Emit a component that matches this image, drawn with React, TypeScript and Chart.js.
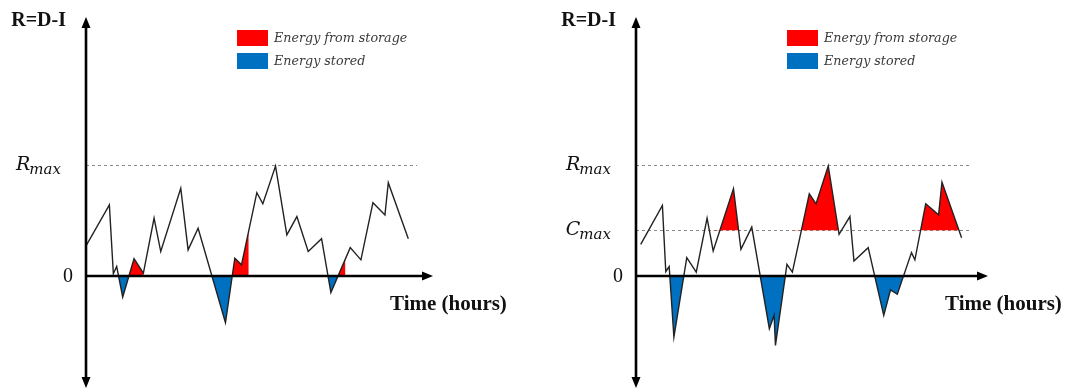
import React, { useEffect, useRef } from "react";
import { Chart, registerables } from "chart.js";

Chart.register(...registerables);

// ---------- data ----------
const X_MAX = 26; // hours shown on the time axis
const Y_MIN = -10;
const Y_MAX = 23.5;
const R_MAX = 10;
const C_MAX = 4.1;
const REF_LINE_END = 24.8;

const leftHours = [0, 1.75, 2.05, 2.3, 2.75, 3.6, 4.3, 5.1, 5.6, 7.1, 7.65, 8.4, 10.45, 11.15, 11.65, 12.8, 13.25, 14.2, 15.05, 15.8, 16.65, 17.65, 18.35, 19.8, 20.6, 21.5, 22.4, 22.65, 24.15];
const leftR = [2.7, 6.4, 0.2, 0.85, -1.9, 1.55, 0.25, 5.2, 2.2, 7.9, 2.35, 4.3, -4.2, 1.6, 1.0, 7.5, 6.5, 9.9, 3.7, 5.35, 2.2, 3.35, -1.5, 2.55, 1.45, 6.6, 5.5, 8.4, 3.35];
const leftWindowStart = [2.75, 10.45, 18.35];
const leftWindowEnd = [4.3, 12.2, 19.45];

const rightHours = [0.35, 1.95, 2.2, 2.45, 2.8, 3.75, 4.45, 5.25, 5.7, 7.2, 7.75, 8.55, 9.85, 10.2, 10.3, 11.15, 11.55, 12.8, 13.3, 14.2, 15.0, 15.8, 16.1, 17.15, 18.3, 18.8, 19.3, 20.35, 20.6, 21.4, 22.35, 22.6, 24.05];
const rightR = [2.85, 6.35, 0.4, 0.85, -5.5, 1.65, 0.35, 5.2, 2.25, 7.85, 2.4, 4.4, -4.75, -3.55, -6.25, 1.05, 0.35, 7.4, 6.5, 9.9, 3.75, 5.35, 1.35, 2.55, -3.55, -1.25, -1.65, 2.1, 1.45, 6.5, 5.5, 8.45, 3.45];
const rightWindowStart = [5.7, 11.55, 20.6];
const rightWindowEnd = [7.75, 15.0, 24.05];

const legendLabels = ["Energy from storage", "Energy stored"];
const yAxisTitle = "R=D-I";
const xAxisTitle = "Time (hours)";

// ---------- styles ----------
const RED = "#FF0000";
const BLUE = "#0070C0";
const NONE = "rgba(0,0,0,0)";

type Pt = { x: number; y: number };

function interp(xs: number[], ys: number[], x: number): number {
  for (let i = 0; i < xs.length - 1; i++) {
    if (x >= xs[i] && x <= xs[i + 1]) {
      const t = (x - xs[i]) / (xs[i + 1] - xs[i]);
      return ys[i] + t * (ys[i + 1] - ys[i]);
    }
  }
  return ys[ys.length - 1];
}

function clipSeries(xs: number[], ys: number[], a: number, b: number): Pt[] {
  const pts: Pt[] = [{ x: a, y: interp(xs, ys, a) }];
  xs.forEach((x, i) => {
    if (x > a && x < b) pts.push({ x, y: ys[i] });
  });
  pts.push({ x: b, y: interp(xs, ys, b) });
  return pts;
}

type RefLine = { value: number; main: string; sub: string };

type PanelCfg = {
  hours: number[];
  values: number[];
  winStart: number[];
  winEnd: number[];
  redBase: number | "origin";
  refLines: RefLine[];
  width: number;
  padLeft: number;
  padRight: number;
};

function makeDecor(cfg: PanelCfg) {
  return {
    id: "decor",
    beforeDatasetsDraw(chart: any) {
      const { ctx } = chart;
      const xs = chart.scales.x;
      const ys = chart.scales.y;
      ctx.save();
      ctx.strokeStyle = "#8a8a8a";
      ctx.lineWidth = 1;
      ctx.setLineDash([3, 3]);
      cfg.refLines.forEach((r) => {
        const y = Math.round(ys.getPixelForValue(r.value)) + 0.5;
        ctx.beginPath();
        ctx.moveTo(xs.getPixelForValue(0), y);
        ctx.lineTo(xs.getPixelForValue(REF_LINE_END), y);
        ctx.stroke();
      });
      ctx.restore();
    },
    afterDatasetsDraw(chart: any) {
      const { ctx, chartArea } = chart;
      const xs = chart.scales.x;
      const ys = chart.scales.y;
      const x0 = xs.getPixelForValue(0);
      const y0 = ys.getPixelForValue(0);
      const top = chartArea.top + 2;
      const bottom = chartArea.bottom + 1;
      const right = chartArea.right;
      ctx.save();
      ctx.strokeStyle = "#000";
      ctx.fillStyle = "#000";
      ctx.lineWidth = 2.6;
      ctx.setLineDash([]);
      // y axis
      ctx.beginPath();
      ctx.moveTo(x0, top + 8);
      ctx.lineTo(x0, bottom - 8);
      ctx.stroke();
      // x axis
      ctx.beginPath();
      ctx.moveTo(x0 - 1, y0);
      ctx.lineTo(right - 8, y0);
      ctx.stroke();
      // arrows
      const arrow = (tx: number, ty: number, dx: number, dy: number) => {
        const len = 11, half = 4.5;
        const bx = tx - dx * len, by = ty - dy * len;
        ctx.beginPath();
        ctx.moveTo(tx, ty);
        ctx.lineTo(bx - dy * half, by + dx * half);
        ctx.lineTo(bx + dy * half, by - dx * half);
        ctx.closePath();
        ctx.fill();
      };
      arrow(x0, top, 0, -1);
      arrow(x0, bottom, 0, 1);
      arrow(right, y0, 1, 0);

      // texts
      ctx.textBaseline = "middle";
      ctx.fillStyle = "#111";
      ctx.font = "bold 20px 'Liberation Serif', serif";
      ctx.textAlign = "right";
      ctx.fillText(yAxisTitle, x0 - 20, 21);
      ctx.font = "bold 21px 'Liberation Serif', serif";
      ctx.textAlign = "left";
      ctx.fillText(xAxisTitle, right - 43, y0 + 29);

      ctx.font = "20px 'Liberation Serif', serif";
      ctx.textAlign = "right";
      ctx.fillText("0", x0 - 13, y0 + 1);

      cfg.refLines.forEach((r) => {
        const y = ys.getPixelForValue(r.value);
        ctx.textAlign = "left";
        ctx.textBaseline = "alphabetic";
        ctx.font = "italic 19px 'DejaVu Serif', serif";
        const wMain = ctx.measureText(r.main).width;
        ctx.font = "italic 15px 'DejaVu Serif', serif";
        const wSub = ctx.measureText(r.sub).width;
        const sx = x0 - 25 - wMain - wSub + 1;
        ctx.font = "italic 19px 'DejaVu Serif', serif";
        ctx.fillText(r.main, sx, y + 5);
        ctx.font = "italic 15px 'DejaVu Serif', serif";
        ctx.fillText(r.sub, sx + wMain - 1, y + 9);
      });

      // legend
      const lx = x0 + 151;
      const colors = [RED, BLUE];
      ctx.textBaseline = "middle";
      ctx.textAlign = "left";
      ctx.font = "italic 12.7px 'DejaVu Serif', serif";
      legendLabels.forEach((lab, i) => {
        const ly = 30 + i * 23;
        ctx.fillStyle = colors[i];
        ctx.fillRect(lx, ly, 31, 16);
        ctx.fillStyle = "#3a3a3a";
        ctx.fillText(lab, lx + 37, ly + 8.5);
      });
      ctx.restore();
    },
  };
}

function Panel({ cfg, left }: { cfg: PanelCfg; left: number }) {
  const ref = useRef<HTMLCanvasElement | null>(null);
  useEffect(() => {
    if (!ref.current) return;
    const line = cfg.hours.map((h, i) => ({ x: h, y: cfg.values[i] }));
    const redSets = cfg.winStart.map((a, i) => ({
      type: "line" as const,
      data: clipSeries(cfg.hours, cfg.values, a, cfg.winEnd[i]),
      borderWidth: 0,
      borderColor: NONE,
      pointRadius: 0,
      tension: 0,
      order: 2,
      fill:
        cfg.redBase === "origin"
          ? { target: "origin", above: RED, below: NONE }
          : { target: { value: cfg.redBase }, above: RED, below: NONE },
    }));
    const chart = new Chart(ref.current, {
      type: "line",
      data: {
        datasets: [
          {
            data: line,
            borderColor: "#222222",
            borderWidth: 1.4,
            pointRadius: 0,
            tension: 0,
            order: 0,
            fill: { target: "origin", above: NONE, below: BLUE },
          } as any,
          ...(redSets as any[]),
        ],
      },
      options: {
        responsive: false,
        animation: false,
        devicePixelRatio: 1,
        layout: { padding: { left: cfg.padLeft, right: cfg.padRight, top: 15, bottom: 5 } },
        scales: {
          x: { type: "linear", min: 0, max: X_MAX, display: false },
          y: { type: "linear", min: Y_MIN, max: Y_MAX, display: false },
        },
        plugins: { legend: { display: false }, tooltip: { enabled: false } },
        events: [],
      },
      plugins: [makeDecor(cfg)],
    });
    return () => chart.destroy();
  }, [cfg]);
  return (
    <canvas
      ref={ref}
      width={cfg.width}
      height={392}
      style={{ position: "absolute", left, top: 0, width: cfg.width, height: 392, display: "block" }}
    />
  );
}

const leftCfg: PanelCfg = {
  hours: leftHours,
  values: leftR,
  winStart: leftWindowStart,
  winEnd: leftWindowEnd,
  redBase: "origin",
  refLines: [{ value: R_MAX, main: "R", sub: "max" }],
  width: 540,
  padLeft: 86,
  padRight: 107,
};

const rightCfg: PanelCfg = {
  hours: rightHours,
  values: rightR,
  winStart: rightWindowStart,
  winEnd: rightWindowEnd,
  redBase: C_MAX,
  refLines: [
    { value: R_MAX, main: "R", sub: "max" },
    { value: C_MAX, main: "C", sub: "max" },
  ],
  width: 538,
  padLeft: 96,
  padRight: 90,
};

export default function App() {
  return (
    <div style={{ position: "fixed", left: 0, top: 0, width: 1078, height: 392, background: "#fff" }}>
      <Panel cfg={leftCfg} left={0} />
      <Panel cfg={rightCfg} left={540} />
    </div>
  );
}
